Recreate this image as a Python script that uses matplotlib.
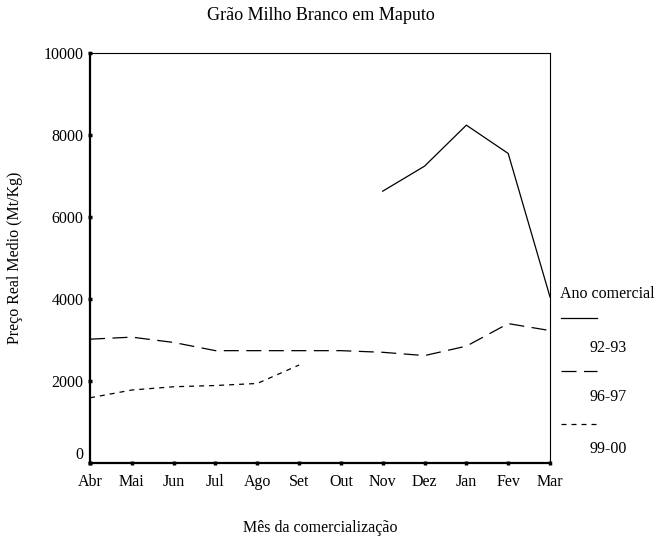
import matplotlib
matplotlib.use("Agg")
import matplotlib.pyplot as plt
import numpy as np

months = ["Abr", "Mai", "Jun", "Jul", "Ago", "Set", "Out", "Nov", "Dez", "Jan", "Fev", "Mar"]

# 92-93: only Nov..Mar
s9293 = [np.nan, np.nan, np.nan, np.nan, np.nan, np.nan, np.nan, 6630, 7240, 8240, 7550, 4050]
s9697 = [3020, 3070, 2940, 2740, 2740, 2740, 2740, 2700, 2620, 2850, 3400, 3230]
s9900 = [1590, 1780, 1860, 1890, 1940, 2390, np.nan, np.nan, np.nan, np.nan, np.nan, np.nan]

series_labels = ["92-93", "96-97", "99-00"]
yticks = [0, 2000, 4000, 6000, 8000, 10000]

plt.rcParams["font.family"] = ["Liberation Serif", "DejaVu Serif"]
plt.rcParams["font.size"] = 11.5

fig = plt.figure(figsize=(6.58, 5.46), dpi=100)
ax = fig.add_axes([90 / 658, 1 - 463 / 546, 460 / 658, 410 / 546])

x = np.arange(len(months))
lw = 0.9
ax.plot(x, s9293, color="black", lw=lw, ls="-")
ax.plot(x, s9697, color="black", lw=lw, ls=(0, (12, 6)))
ax.plot(x, s9900, color="black", lw=lw, ls=(0, (4, 4)))

ax.set_xlim(0, len(months) - 1)
ax.set_ylim(0, 10000)
ax.set_xticks(x)
ax.set_xticklabels(months)
ax.set_yticks(yticks)
ax.set_yticklabels([str(v) for v in yticks])
ax.tick_params(direction="inout", length=3, width=2.5)
ax.tick_params(axis="x", pad=6.5)
ax.tick_params(axis="y", pad=3)
# the "0" label sits a little above its tick
ax.get_yticklabels()[0].set_verticalalignment("bottom")

for side in ["left", "bottom"]:
    ax.spines[side].set_linewidth(1.6)
for side in ["top", "right"]:
    ax.spines[side].set_linewidth(0.8)

fig.text(0.487, 1 - 15 / 546, "Grão Milho Branco em Maputo", ha="center", va="center", fontsize=13)
fig.text(0.487, 1 - 528 / 546, "Mês da comercialização", ha="center", va="center")
fig.text(15 / 658, 1 - 258 / 546, "Preço Real Medio (Mt/Kg)", ha="center", va="center", rotation=90)

# legend drawn beside the axes
styles = ["-", (0, (12, 6)), (0, (4, 4))]
fig.text(560 / 658, 1 - 294 / 546, "Ano comercial", ha="left", va="center")
line_y = [318, 371, 424]
label_y = [348, 397, 449]
for st, lab, ly, ty in zip(styles, series_labels, line_y, label_y):
    fig.add_artist(plt.Line2D([561 / 658, 597 / 658], [1 - ly / 546, 1 - ly / 546],
                              color="black", lw=lw, ls=st))
    fig.text(590 / 658, 1 - ty / 546, lab, ha="left", va="center")

fig.savefig("out.png", dpi=100)
